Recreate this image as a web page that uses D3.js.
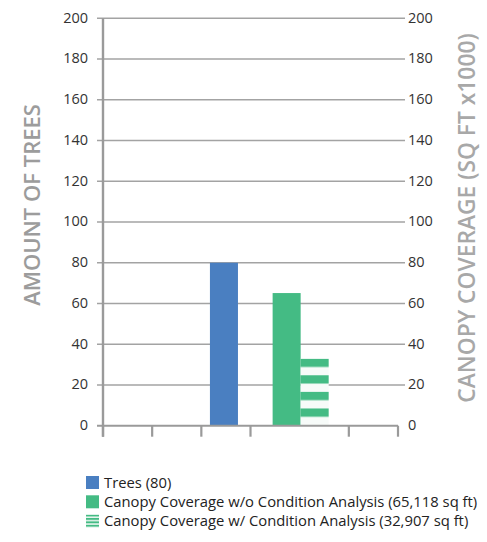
<!DOCTYPE html>
<html>
<head>
<meta charset="utf-8">
<script src="https://cdn.jsdelivr.net/npm/d3@7"></script>
<style>
  html, body { margin: 0; padding: 0; background: #fff; }
  svg { display: block; font-family: "Open Sans", Lato, sans-serif; }
</style>
</head>
<body>
<svg id="chart" width="487" height="542"></svg>
<script>
// Series and axis data
const seriesNames = ["Trees", "Canopy Coverage w/o Condition Analysis", "Canopy Coverage w/ Condition Analysis"];
const seriesValues = [80, 65.118, 32.907];
const legendLabels = ["Trees (80)", "Canopy Coverage w/o Condition Analysis (65,118 sq ft)", "Canopy Coverage w/ Condition Analysis (32,907 sq ft)"];
const yTicks = [0, 20, 40, 60, 80, 100, 120, 140, 160, 180, 200];
const slots = ["s0", "s1", "s2", "s3", "s4", "s5"];
const leftTitle = "AMOUNT OF TREES";
const rightTitle = "CANOPY COVERAGE (SQ FT x1000)";

const blue = "#4a7fc1", green = "#44bb84", gridGray = "#a3a3a3", axisGray = "#9a9a9a";

const svg = d3.select("#chart");
const plot = { left: 103, right: 398, top: 18.3, bottom: 425.7 };

// Both vertical axes share the 0–200 range
const yLeft = d3.scaleLinear().domain([0, 200]).range([plot.bottom, plot.top]);
const yRight = d3.scaleLinear().domain([0, 200]).range([plot.bottom, plot.top]);

// Category slots along the bottom axis
const xSlot = d3.scaleBand().domain(slots).range([plot.left, plot.right]).padding(0);
const slotW = xSlot.bandwidth();

// Horizontal gridlines with right-side tick extensions
svg.append("g").selectAll("line").data(yTicks.filter(d => d > 0)).join("line")
  .attr("x1", plot.left - 6).attr("x2", plot.right + 7)
  .attr("y1", d => yLeft(d)).attr("y2", d => yLeft(d))
  .attr("stroke", gridGray).attr("stroke-width", 1.6);

// Stripe pattern for the condition-analysis bar
const defs = svg.append("defs");
const pat = defs.append("pattern").attr("id", "stripes")
  .attr("patternUnits", "userSpaceOnUse").attr("width", 40).attr("height", 16.6)
  .attr("y", yRight(seriesValues[2]));
pat.append("rect").attr("width", 40).attr("height", 16.6).attr("fill", "#f7fbf9");
pat.append("rect").attr("width", 40).attr("height", 8.3).attr("fill", green);

const legendPat = defs.append("pattern").attr("id", "stripesSmall")
  .attr("patternUnits", "userSpaceOnUse").attr("width", 20).attr("height", 3.4);
legendPat.append("rect").attr("width", 20).attr("height", 3.4).attr("fill", "#e8f6ef");
legendPat.append("rect").attr("width", 20).attr("height", 1.9).attr("fill", green);

// Bars: trees sit in the third slot, the two canopy bars straddle the fourth/fifth slot boundary
const barW = slotW * 0.57;
const treesCenter = xSlot("s2") + slotW * 0.46;
const canopyCenter = xSlot("s4") + slotW * 0.02;
const bars = [
  { x: treesCenter - barW / 2, v: seriesValues[0], y: yLeft, fill: blue },
  { x: canopyCenter - barW, v: seriesValues[1], y: yRight, fill: green },
  { x: canopyCenter, v: seriesValues[2], y: yRight, fill: "url(#stripes)" }
];
svg.append("g").selectAll("rect").data(bars).join("rect")
  .attr("x", d => d.x).attr("width", barW)
  .attr("y", d => d.y(d.v)).attr("height", d => plot.bottom - d.y(d.v))
  .attr("fill", d => d.fill);

// Bottom axis with boundary ticks (the one hidden by the canopy pair is omitted)
const xTickPos = slots.map(s => xSlot(s)).concat([plot.right]).filter((d, i) => i !== 4);
svg.append("line").attr("x1", plot.left - 6).attr("x2", plot.right)
  .attr("y1", plot.bottom).attr("y2", plot.bottom)
  .attr("stroke", axisGray).attr("stroke-width", 2);
svg.append("g").selectAll("line").data(xTickPos).join("line")
  .attr("x1", d => d).attr("x2", d => d)
  .attr("y1", plot.bottom).attr("y2", plot.bottom + 11)
  .attr("stroke", axisGray).attr("stroke-width", 2.2);

// Left vertical axis line
svg.append("line").attr("x1", plot.left).attr("x2", plot.left)
  .attr("y1", plot.top).attr("y2", plot.bottom + 11)
  .attr("stroke", axisGray).attr("stroke-width", 2.4);

// Tick labels
svg.append("g").selectAll("text").data(yTicks).join("text")
  .attr("x", 88).attr("y", d => yLeft(d)).attr("dy", "0.3em")
  .attr("text-anchor", "end").attr("font-size", 14.5).attr("fill", "#333")
  .text(d => d);
svg.append("g").selectAll("text").data(yTicks).join("text")
  .attr("x", 408).attr("y", d => yRight(d)).attr("dy", "0.3em")
  .attr("text-anchor", "start").attr("font-size", 14.5).attr("fill", "#333")
  .text(d => d);

// Axis titles
svg.append("text").attr("transform", `translate(40,205) rotate(-90)`)
  .attr("text-anchor", "middle").attr("font-size", 22).attr("font-weight", 600).attr("fill", "#9c9c9c")
  .text(leftTitle);
svg.append("text").attr("transform", `translate(475,218) rotate(-90)`)
  .attr("text-anchor", "middle").attr("font-size", 22.8).attr("font-weight", 600).attr("fill", "#a8a8a8")
  .text(rightTitle);

// Legend
const legendFills = [blue, green, "url(#stripesSmall)"];
const lg = svg.append("g").selectAll("g").data(legendLabels).join("g")
  .attr("transform", (d, i) => `translate(86,${476 + i * 19.3})`);
lg.append("rect").attr("width", 13).attr("height", 13).attr("fill", (d, i) => legendFills[i]);
lg.append("text").attr("x", 18).attr("y", 11.8).attr("font-size", 14.8).attr("fill", "#222")
  .text(d => d);
</script>
</body>
</html>
